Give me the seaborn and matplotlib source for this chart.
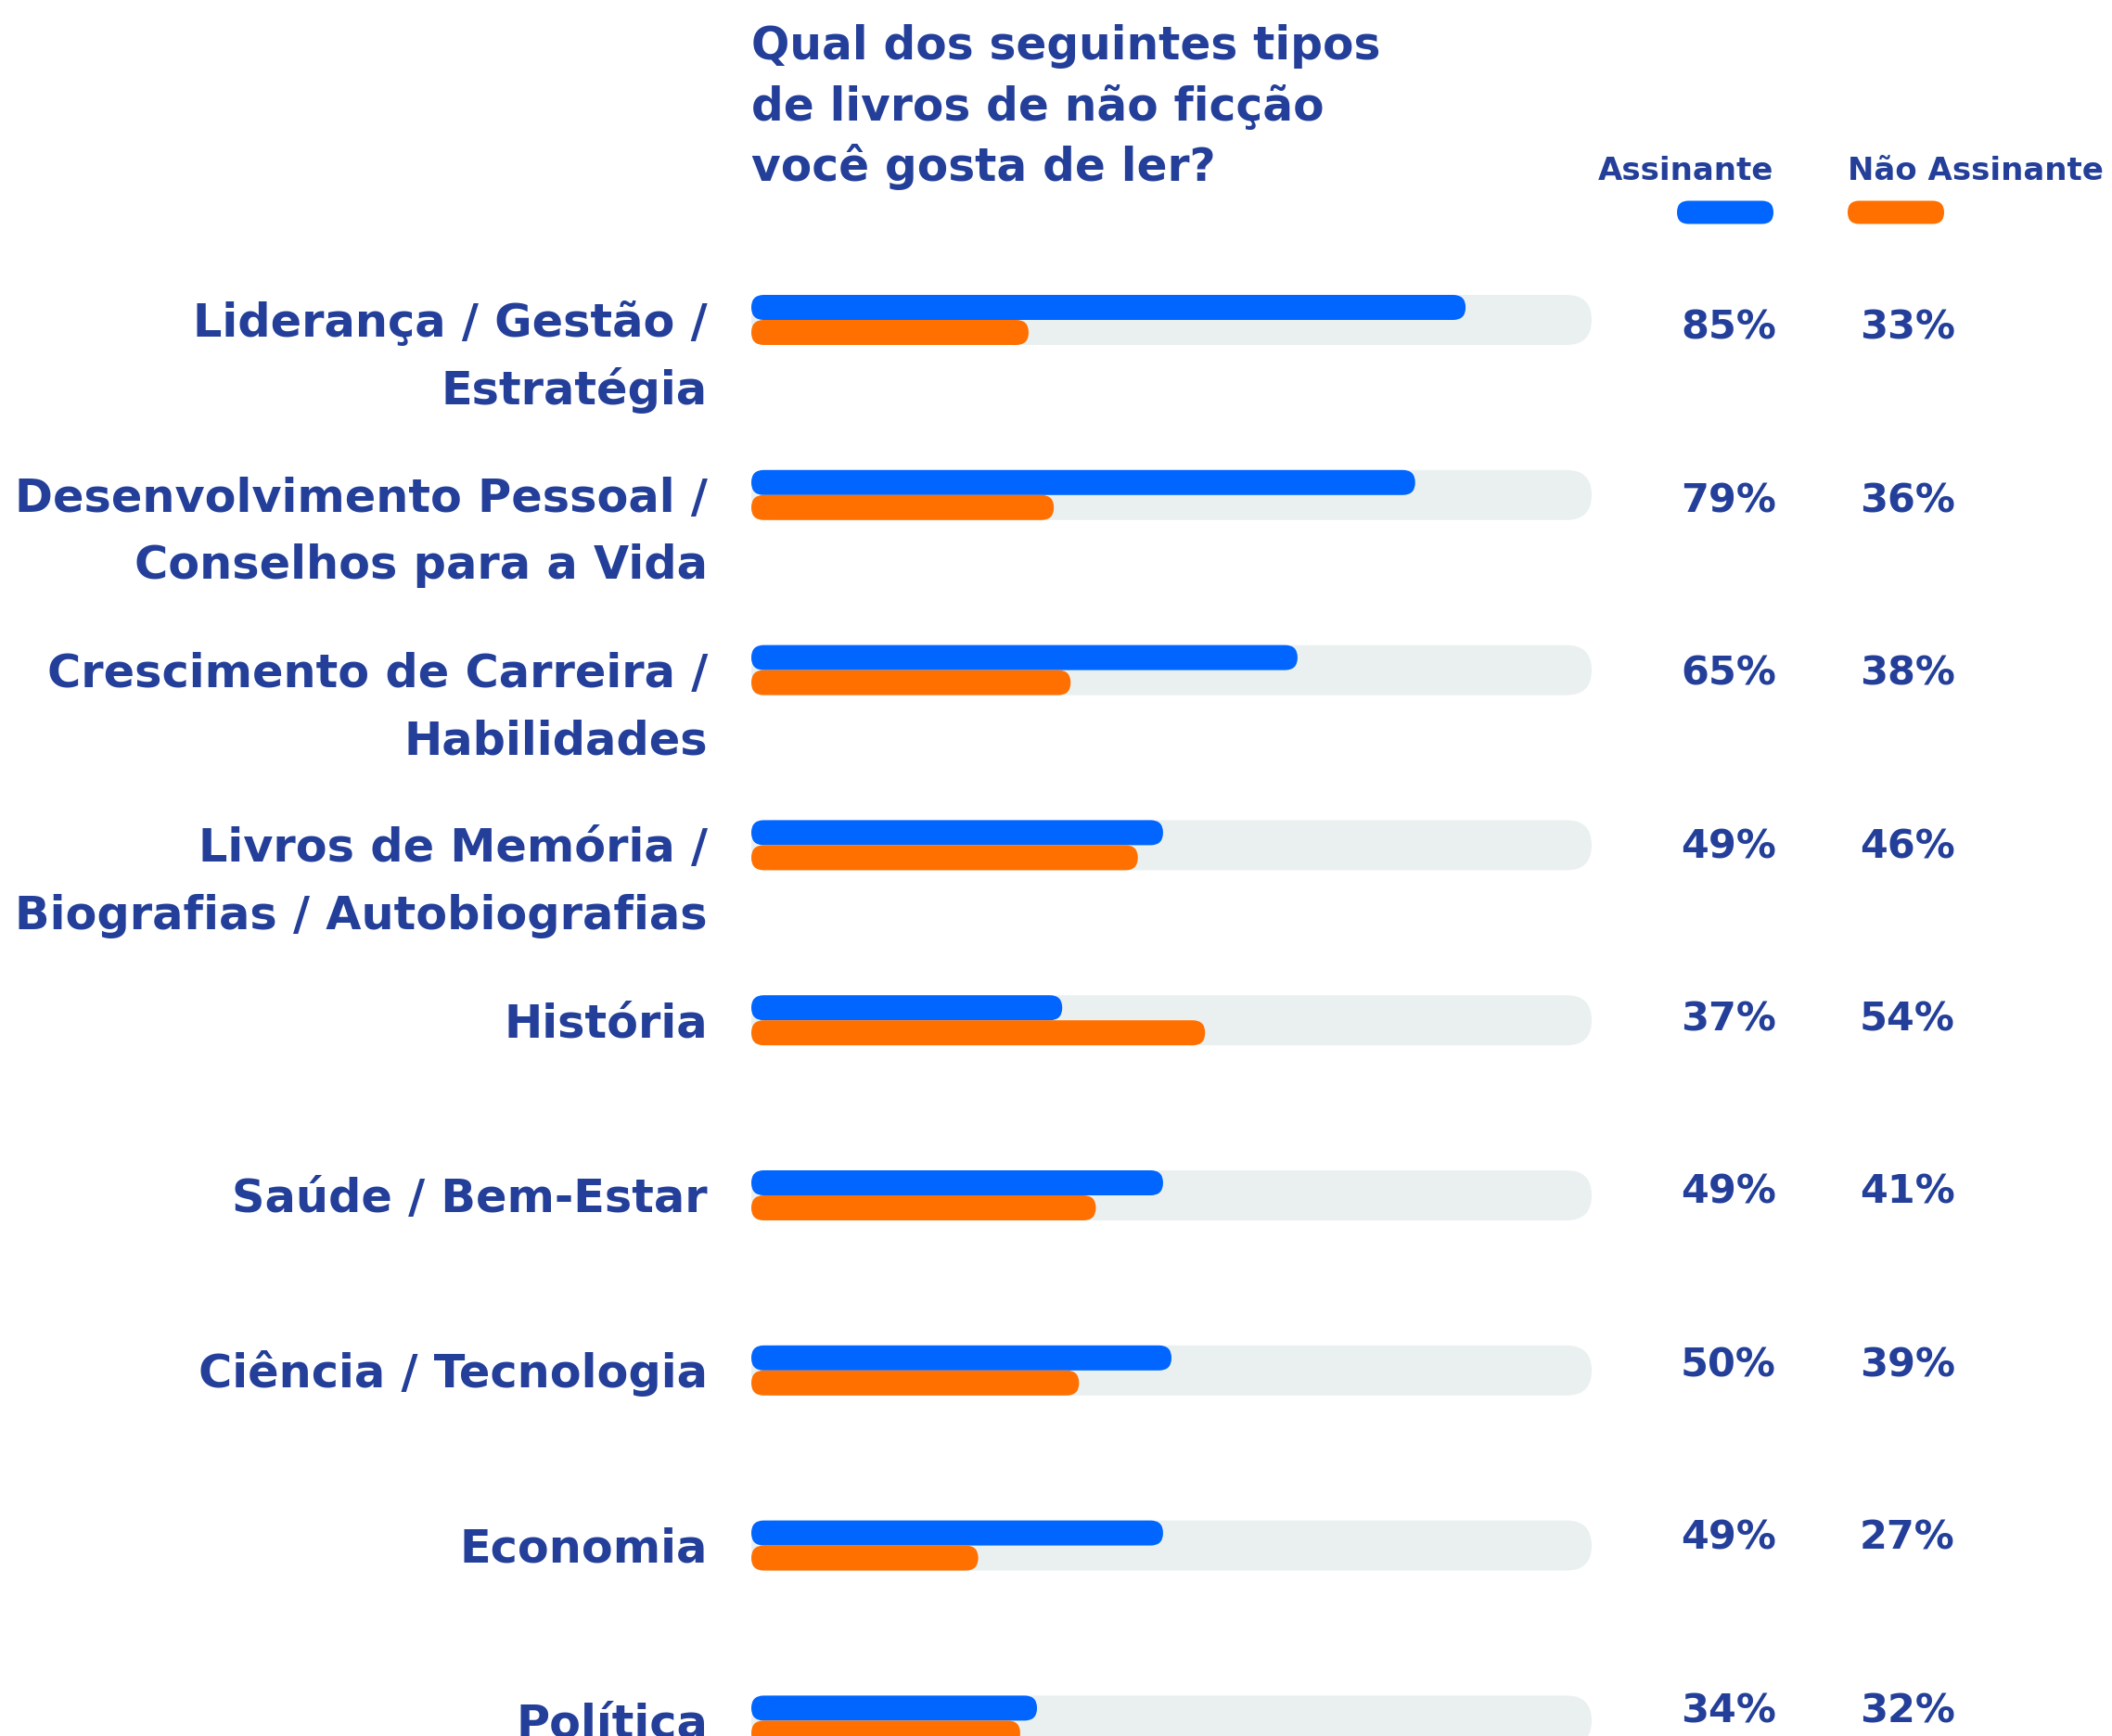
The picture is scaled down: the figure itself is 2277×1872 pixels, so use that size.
import pandas as pd
import seaborn as sns
import matplotlib.pyplot as plt
from matplotlib.patches import FancyBboxPatch

# Dados
categorias = [
    "Liderança / Gestão /\nEstratégia",
    "Desenvolvimento Pessoal /\nConselhos para a Vida",
    "Crescimento de Carreira /\nHabilidades",
    "Livros de Memória /\nBiografias / Autobiografias",
    "História",
    "Saúde / Bem-Estar",
    "Ciência / Tecnologia",
    "Economia",
    "Política",
]
assinante = [85, 79, 65, 49, 37, 49, 50, 49, 34]
nao_assinante = [33, 36, 38, 46, 54, 41, 39, 27, 32]
grupos = ["Assinante", "Não Assinante"]
maximo = [100] * len(categorias)

titulo = "Qual dos seguintes tipos\nde livros de não ficção\nvocê gosta de ler?"

azul = "#0066FF"
laranja = "#FF7000"
cinza = "#EAF0F0"
texto = "#233F99"

df = pd.DataFrame({
    "categoria": categorias * 2,
    "valor": assinante + nao_assinante,
    "grupo": [grupos[0]] * len(categorias) + [grupos[1]] * len(categorias),
})
df_fundo = pd.DataFrame({"categoria": categorias, "valor": maximo})

plt.rcParams["font.family"] = ["DejaVu Sans"]
plt.rcParams["font.weight"] = "bold"

W, H = 2277, 1872
fig = plt.figure(figsize=(W / 100, H / 100), dpi=100)
ax_x0, ax_w = 810, 906
ax = fig.add_axes([ax_x0 / W, 0, ax_w / W, 1])

sns.barplot(data=df_fundo, y="categoria", x="valor", color=cinza, orient="h",
            width=0.286, saturation=1, ax=ax)
sns.barplot(data=df, y="categoria", x="valor", hue="grupo", hue_order=grupos,
            palette=[azul, laranja], orient="h", width=0.286, saturation=1,
            legend=False, ax=ax)

# posições verticais: centro da 1a linha em 345 px, passo de 188.8 px
passo = 188.8
ax.set_xlim(0, 100)
ax.set_ylim((H - 345) / passo, -345 / passo)
ax.axis("off")

# barras com pontas arredondadas
px_x = ax_w / 100
px_y = passo
for p in list(ax.patches):
    x, y, w, h = p.get_x(), p.get_y(), p.get_width(), p.get_height()
    r = h * px_y / 2 / px_x * 0.999
    nova = FancyBboxPatch((x, y), w, h, boxstyle=f"round,pad=0,rounding_size={r}",
                          mutation_aspect=px_x / px_y, facecolor=p.get_facecolor(),
                          edgecolor="none", zorder=p.get_zorder())
    p.remove()
    ax.add_patch(nova)

trans = ax.get_yaxis_transform()
meia_cap = 17.9 / passo
entre_linhas = 72.6 / passo
for i, cat in enumerate(categorias):
    for k, linha in enumerate(cat.split("\n")):
        ax.text(-47 / ax_w, i + meia_cap + k * entre_linhas, linha, transform=trans,
                ha="right", va="baseline", fontsize=35.6, color=texto, fontweight="bold")
    # os valores seguem um passo um pouco menor que o das barras
    y_val = (350 + 186.4 * i + 16) / passo - 345 / passo
    ax.text((1812 - ax_x0) / ax_w, y_val, f"{assinante[i]}%", transform=trans,
            ha="left", va="baseline", fontsize=31, color=texto, fontweight="bold")
    ax.text((2005 - ax_x0) / ax_w, y_val, f"{nao_assinante[i]}%", transform=trans,
            ha="left", va="baseline", fontsize=31, color=texto, fontweight="bold")

# título
for k, linha in enumerate(titulo.split("\n")):
    fig.text(ax_x0 / W, 1 - (64 + k * 65.5) / H, linha, ha="left", va="baseline",
             fontsize=35, color=texto, fontweight="bold")

# legenda
fig.text(1912 / W, 1 - 194 / H, grupos[0], ha="right", va="baseline",
         fontsize=24.5, color=texto, fontweight="bold")
fig.text(1992 / W, 1 - 194 / H, grupos[1], ha="left", va="baseline",
         fontsize=24.5, color=texto, fontweight="bold")
for x0, cor in [(1808, azul), (1992, laranja)]:
    fig.patches.append(FancyBboxPatch(
        (x0 / W, 1 - 241.5 / H), 104 / W, 25 / H,
        boxstyle=f"round,pad=0,rounding_size={12.4 / W}", mutation_aspect=W / H,
        transform=fig.transFigure, figure=fig, facecolor=cor, edgecolor="none"))

fig.savefig("out.png", dpi=100, facecolor="white")
